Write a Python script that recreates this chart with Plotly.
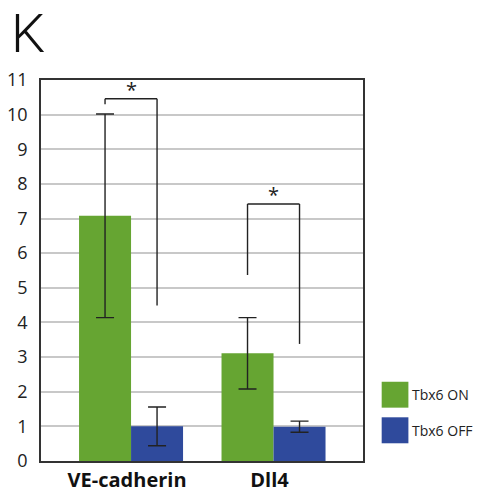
import plotly.graph_objects as go

categories = ["VE-cadherin", "Dll4"]
series_names = ["Tbx6 ON", "Tbx6 OFF"]
tbx6_on = [7.08, 3.11]
tbx6_on_err = [2.94, 1.03]
tbx6_off = [1.0, 0.99]
tbx6_off_err = [0.56, 0.16]
colors = ["#66a532", "#2f4a9c"]
y_ticks = list(range(0, 12))
# significance brackets (per category): top of bracket, end of left leg, end of right leg
bracket_top = [10.46, 7.42]
bracket_left_end = [10.30, 5.37]
bracket_right_end = [4.49, 3.38]
sig_labels = ["*", "*"]
panel_label = "K"

FONT = "Open Sans"
BARGAP = 0.27
half = (1 - BARGAP) / 4  # offset of each bar centre from category centre

fig = go.Figure()
for name, vals, errs, col in [
    (series_names[0], tbx6_on, tbx6_on_err, colors[0]),
    (series_names[1], tbx6_off, tbx6_off_err, colors[1]),
]:
    fig.add_trace(go.Bar(
        x=categories, y=vals, name=name,
        marker=dict(color=col, line=dict(width=0)),
        error_y=dict(type="data", array=errs, visible=True,
                     color="#222222", thickness=1.4, width=9),
        showlegend=False, hoverinfo="skip",
    ))

# significance brackets
for i in range(len(categories)):
    xl, xr = i - half, i + half
    top = bracket_top[i]
    line = dict(color="#222222", width=1.4)
    fig.add_shape(type="line", x0=xl, x1=xl, y0=bracket_left_end[i], y1=top, line=line)
    fig.add_shape(type="line", x0=xr, x1=xr, y0=bracket_right_end[i], y1=top, line=line)
    fig.add_shape(type="line", x0=xl, x1=xr, y0=top, y1=top, line=line)
    fig.add_annotation(x=i, y=top, text=sig_labels[i], showarrow=False,
                       yanchor="bottom", yshift=-6,
                       font=dict(family=FONT, size=20, color="#222222"))

# legend drawn as squares + text at right of plot
leg_x0, leg_x1 = 1.058, 1.141
leg_rows = [(0.208, 0.140), (0.1147, 0.0465)]
for (y1, y0), col, name in zip(leg_rows, colors, series_names):
    fig.add_shape(type="rect", xref="paper", yref="paper",
                  x0=leg_x0, x1=leg_x1, y0=y0, y1=y1,
                  fillcolor=col, line=dict(width=0))
    fig.add_annotation(xref="paper", yref="paper", x=1.147, y=(y0 + y1) / 2,
                       text=name, showarrow=False, xanchor="left", yanchor="middle",
                       font=dict(family=FONT, size=14, color="#222222"))

fig.add_annotation(xref="paper", yref="paper", x=-0.0994, y=1.209,
                   text=panel_label, showarrow=False, xanchor="left", yanchor="top",
                   font=dict(family="Roboto", size=54, color="#111111", weight=300))

fig.update_layout(
    width=477, height=495,
    margin=dict(l=41, r=114, t=80, b=34),
    plot_bgcolor="white", paper_bgcolor="white",
    barmode="group", bargap=BARGAP, bargroupgap=0,
    hovermode=False,
    xaxis=dict(range=[-0.632, 1.628], showline=True, linecolor="#333333",
               linewidth=1.5, mirror=True, ticks="", showgrid=False,
               automargin=False,
               tickfont=dict(family=FONT, size=20, color="#111111", weight="bold"),
               ticklabelstandoff=0, ticklabelshift=-4),
    yaxis=dict(range=[0, 11], tickvals=y_ticks, ticktext=[str(v) for v in y_ticks],
               showline=True, linecolor="#333333", linewidth=1.5, mirror=True,
               ticks="", showgrid=True, gridcolor="#c8c8c8", gridwidth=1.5,
               zeroline=False, automargin=False,
               tickfont=dict(family=FONT, size=18, color="#222222"),
               ticklabelstandoff=8),
)

fig.write_html("out.html", config={"displayModeBar": False},
               post_script="document.body.style.margin='0';document.body.style.overflow='hidden';")
